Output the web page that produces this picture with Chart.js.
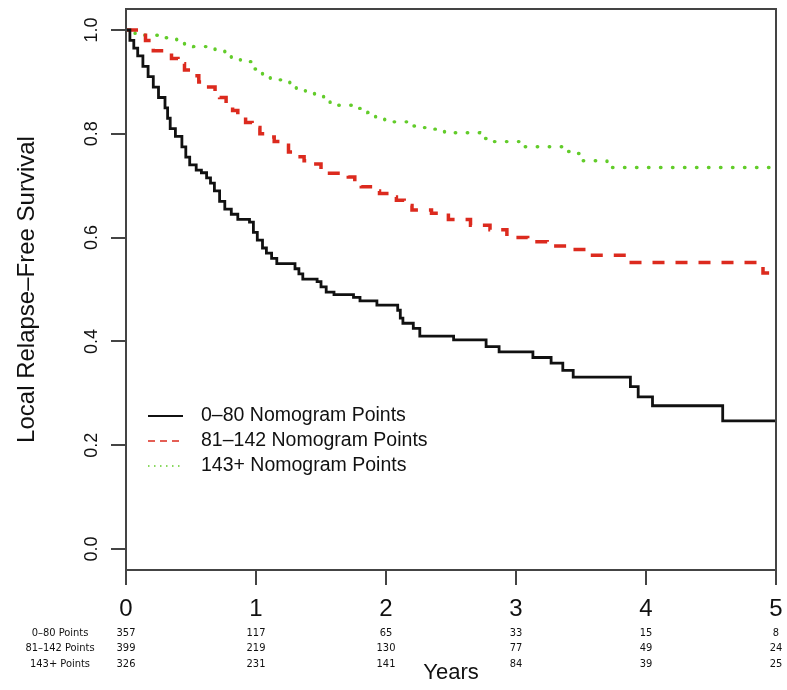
<!DOCTYPE html>
<html lang="en">
<head>
<meta charset="UTF-8">
<title>Local Relapse-Free Survival by Nomogram Points</title>
<script src="https://cdn.jsdelivr.net/npm/chart.js"></script>
<style>
  html, body { margin: 0; padding: 0; background: #fff; }
  #km { display: block; }
</style>
</head>
<body>
<canvas id="km" width="787" height="690"></canvas>
<script>
// Kaplan-Meier steps: time in years, survival after the drop
const lowTimes = [0, 0.03, 0.06, 0.09, 0.13, 0.17, 0.21, 0.25, 0.30, 0.32, 0.34, 0.38, 0.43, 0.46, 0.49, 0.54,
  0.58, 0.62, 0.65, 0.68, 0.72, 0.76, 0.81, 0.86, 0.95, 0.98, 1.01, 1.05, 1.08, 1.12, 1.16, 1.30, 1.33, 1.36,
  1.47, 1.50, 1.54, 1.60, 1.75, 1.80, 1.93, 2.09, 2.11, 2.13, 2.21, 2.26, 2.52, 2.77, 2.87, 3.13, 3.27, 3.36,
  3.44, 3.88, 3.94, 4.05, 4.59, 5.0];
const lowSurv = [1.0, 0.98, 0.965, 0.95, 0.93, 0.91, 0.89, 0.87, 0.85, 0.83, 0.81, 0.795, 0.775, 0.755, 0.74, 0.73,
  0.725, 0.715, 0.705, 0.69, 0.67, 0.655, 0.645, 0.635, 0.63, 0.61, 0.595, 0.58, 0.57, 0.56, 0.55, 0.54, 0.53, 0.52,
  0.515, 0.505, 0.495, 0.49, 0.485, 0.478, 0.47, 0.46, 0.445, 0.435, 0.425, 0.41, 0.403, 0.39, 0.38, 0.369, 0.358, 0.344,
  0.331, 0.313, 0.293, 0.276, 0.247, 0.247];

const midTimes = [0, 0.15, 0.21, 0.35, 0.40, 0.45, 0.50, 0.56, 0.62, 0.685, 0.72, 0.77, 0.82, 0.86, 0.92, 0.97,
  1.03, 1.08, 1.14, 1.20, 1.25, 1.30, 1.37, 1.43, 1.50, 1.55, 1.71, 1.76, 1.81, 1.88, 1.95, 2.02, 2.08, 2.14,
  2.20, 2.35, 2.48, 2.65, 2.80, 2.93, 3.09, 3.24, 3.41, 3.54, 3.85, 4.90, 5.0];
const midSurv = [1.0, 0.98, 0.96, 0.945, 0.935, 0.923, 0.912, 0.90, 0.89, 0.88, 0.87, 0.855, 0.845, 0.833, 0.822, 0.812,
  0.80, 0.794, 0.785, 0.778, 0.765, 0.756, 0.748, 0.742, 0.732, 0.724, 0.717, 0.706, 0.698, 0.69, 0.685, 0.678, 0.672, 0.662,
  0.653, 0.647, 0.635, 0.624, 0.615, 0.60, 0.592, 0.584, 0.577, 0.566, 0.552, 0.532, 0.532];

const highTimes = [0, 0.07, 0.30, 0.39, 0.45, 0.52, 0.685, 0.76, 0.81, 0.88, 0.99, 1.05, 1.11, 1.26, 1.31, 1.38,
  1.45, 1.52, 1.57, 1.75, 1.86, 1.92, 1.99, 2.16, 2.24, 2.33, 2.45, 2.72, 2.79, 3.03, 3.36, 3.45, 3.49, 3.70, 5.0];
const highSurv = [1.0, 0.99, 0.985, 0.979, 0.973, 0.968, 0.96, 0.954, 0.947, 0.939, 0.925, 0.912, 0.904, 0.897, 0.885, 0.879,
  0.873, 0.865, 0.855, 0.849, 0.841, 0.832, 0.823, 0.815, 0.812, 0.809, 0.802, 0.791, 0.785, 0.775, 0.766, 0.762, 0.748, 0.735, 0.735];

const seriesNames = ['0–80 Nomogram Points', '81–142 Nomogram Points', '143+ Nomogram Points'];

const xTicks = [0, 1, 2, 3, 4, 5];
const yTicks = [0, 0.2, 0.4, 0.6, 0.8, 1.0];

// numbers at risk under the axis
const riskGroups = ['0–80 Points', '81–142 Points', '143+ Points'];
const riskLow = [357, 117, 65, 33, 15, 8];
const riskMid = [399, 219, 130, 77, 49, 24];
const riskHigh = [326, 231, 141, 84, 39, 25];

const FONT = '"Liberation Sans", Arial, Helvetica, sans-serif';
const NARROW = '"Liberation Sans Narrow", "DejaVu Sans Condensed", ' + FONT;

function pts(ts, vs) {
  return ts.map((t, i) => ({ x: t, y: vs[i] }));
}

// box, y labels, legend, risk table, axis titles (R style)
const rDecor = {
  id: 'rDecor',
  afterDraw(chart) {
    const { ctx, chartArea: a, scales } = chart;
    const xs = scales.x, ys = scales.y;
    ctx.save();

    ctx.strokeStyle = '#444';
    ctx.lineWidth = 2;
    ctx.strokeRect(a.left, a.top, a.right - a.left, a.bottom - a.top);

    ctx.fillStyle = '#111';
    ctx.textAlign = 'center';
    ctx.textBaseline = 'middle';
    ctx.font = '18px ' + FONT;
    ys.ticks.forEach(t => {
      ctx.save();
      ctx.translate(92, ys.getPixelForValue(t.value));
      ctx.rotate(-Math.PI / 2);
      ctx.fillText(t.value.toFixed(1), 0, 0);
      ctx.restore();
    });

    ctx.save();
    ctx.font = '24px ' + FONT;
    ctx.translate(27, (a.top + a.bottom) / 2);
    ctx.rotate(-Math.PI / 2);
    ctx.fillText('Local Relapse–Free Survival', 0, 0);
    ctx.restore();

    ctx.font = '22px ' + FONT;
    ctx.fillText('Years', (a.left + a.right) / 2, 673);

    // risk table
    ctx.font = '11px ' + NARROW;
    const rows = [riskLow, riskMid, riskHigh];
    const rowY = [633, 648, 664];
    rows.forEach((row, r) => {
      ctx.fillText(riskGroups[r], 60, rowY[r]);
      row.forEach((n, i) => ctx.fillText(String(n), xs.getPixelForValue(xTicks[i]), rowY[r]));
    });

    // legend
    const legY = [416, 441, 466];
    const legDash = [[], [7, 5], [1.5, 4.5]];
    ctx.textAlign = 'left';
    ctx.font = '19.5px ' + FONT;
    chart.data.datasets.forEach((ds, i) => {
      ctx.beginPath();
      ctx.setLineDash(legDash[i]);
      ctx.strokeStyle = ds.borderColor;
      ctx.lineWidth = i === 0 ? 2 : 1.6;
      ctx.moveTo(148, legY[i]);
      ctx.lineTo(183, legY[i]);
      ctx.stroke();
      ctx.setLineDash([]);
      ctx.fillStyle = '#111';
      ctx.fillText(ds.label, 201, legY[i]);
    });

    ctx.restore();
  }
};

new Chart(document.getElementById('km'), {
  type: 'line',
  data: {
    datasets: [
      {
        label: seriesNames[0],
        data: pts(lowTimes, lowSurv),
        borderColor: '#111111',
        borderWidth: 2.8,
        stepped: true
      },
      {
        label: seriesNames[1],
        data: pts(midTimes, midSurv),
        borderColor: '#dc2a1e',
        borderWidth: 3.5,
        borderDash: [12, 11],
        stepped: true
      },
      {
        label: seriesNames[2],
        data: pts(highTimes, highSurv),
        borderColor: '#62cc2a',
        borderWidth: 3.4,
        borderDash: [0.5, 11.5],
        borderCapStyle: 'round',
        stepped: true
      }
    ]
  },
  options: {
    responsive: false,
    devicePixelRatio: 1,
    animation: false,
    layout: { padding: { left: 0, right: 11, top: 9, bottom: 0 } },
    elements: { point: { radius: 0 }, line: { fill: false, tension: 0 } },
    plugins: { legend: { display: false }, tooltip: { enabled: false } },
    scales: {
      x: {
        type: 'linear',
        min: 0,
        max: 5,
        afterBuildTicks: s => { s.ticks = xTicks.map(v => ({ value: v })); },
        // fixed height, and no extra room for the end labels
        afterFit: s => { s.height = 120; s.paddingLeft = 0; s.paddingRight = 0; },
        grid: { drawOnChartArea: false, tickLength: 15, color: '#444', lineWidth: 2 },
        border: { display: true, color: '#444', width: 2 },
        ticks: { color: '#111', font: { family: FONT, size: 24 }, padding: 10, maxRotation: 0 }
      },
      y: {
        type: 'linear',
        min: -0.0405,
        max: 1.0405,
        afterBuildTicks: s => { s.ticks = yTicks.map(v => ({ value: v })); },
        afterFit: s => { s.width = 126; s.paddingTop = 0; s.paddingBottom = 0; },
        grid: { drawOnChartArea: false, tickLength: 15, color: '#444', lineWidth: 2 },
        border: { display: true, color: '#444', width: 2 },
        ticks: { display: false }
      }
    }
  },
  plugins: [rDecor]
});
</script>
</body>
</html>
